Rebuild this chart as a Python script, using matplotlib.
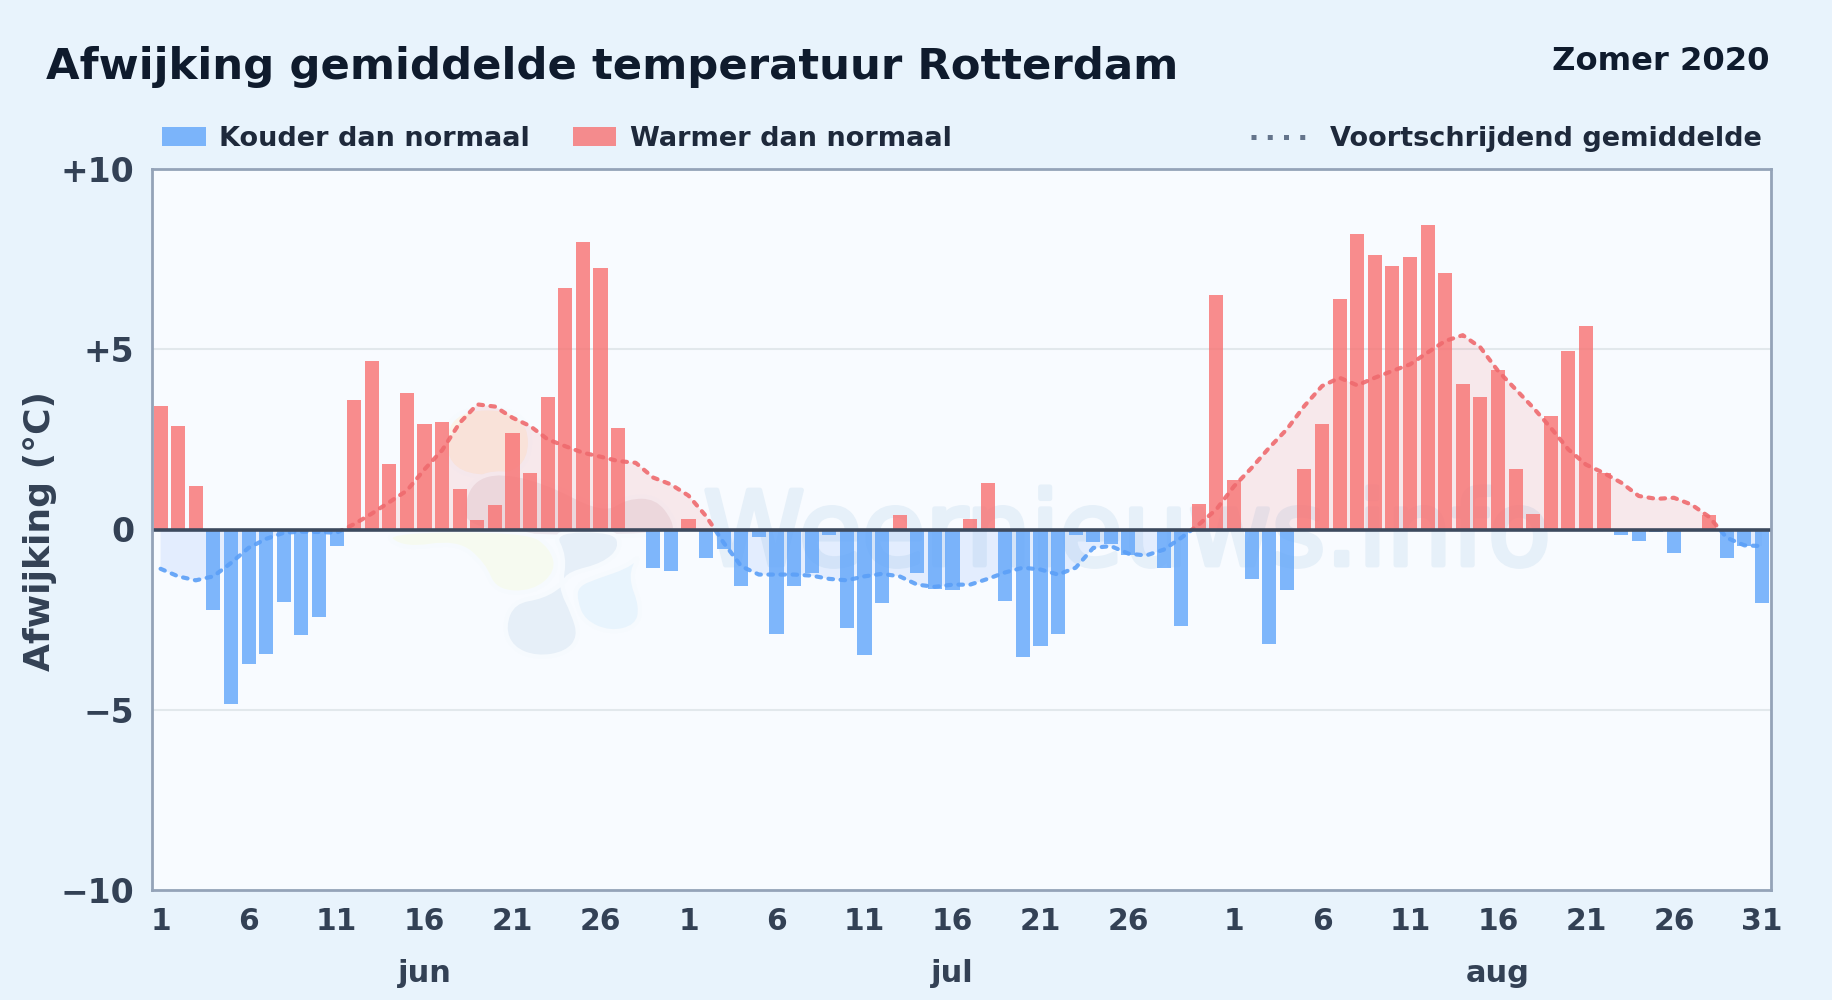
import matplotlib
matplotlib.use("Agg")
import matplotlib.pyplot as plt
import matplotlib.patheffects as pe
from matplotlib.patches import Rectangle, PathPatch
from matplotlib.path import Path
from matplotlib.lines import Line2D
from matplotlib.transforms import blended_transform_factory

# afwijking per dag, 1 jun t/m 31 aug 2020
jun_vals = [3.42, 2.86, 1.22, -2.22, -4.83, -3.74, -3.46, -2.00, -2.94, -2.44,
            -0.47, 3.58, 4.67, 1.81, 3.80, 2.94, 2.97, 1.11, 0.25, 0.69,
            2.69, 1.56, 3.67, 6.69, 7.97, 7.25, 2.81, 0.0, -1.06, -1.14]
jul_vals = [0.28, -0.78, -0.53, -1.56, -0.22, -2.89, -1.56, -1.22, -0.14, -2.72,
            -3.47, -2.03, 0.39, -1.22, -1.64, -1.69, 0.28, 1.28, -1.97, -3.53,
            -3.24, -2.89, -0.14, -0.36, -0.39, -0.72, 0.0, -1.06, -2.67, 0.72,
            6.50]
aug_vals = [1.36, -1.36, -3.17, -1.67, 1.67, 2.94, 6.39, 8.19, 7.61, 7.31,
            7.56, 8.44, 7.11, 4.03, 3.67, 4.42, 1.69, 0.42, 3.14, 4.94,
            5.64, 1.58, -0.14, -0.31, -0.07, -0.64, 0.0, 0.39, -0.78, -0.47,
            -2.03]

# voortschrijdend gemiddelde
jun_avg = [-1.09, -1.30, -1.41, -1.30, -0.93, -0.51, -0.26, -0.09, -0.06, -0.07,
           -0.09, 0.15, 0.44, 0.76, 1.08, 1.67, 2.20, 2.96, 3.47, 3.41,
           3.10, 2.87, 2.50, 2.31, 2.13, 2.02, 1.90, 1.85, 1.44, 1.25]
jul_avg = [0.94, 0.37, -0.37, -1.02, -1.25, -1.25, -1.25, -1.28, -1.37, -1.41,
           -1.30, -1.23, -1.30, -1.53, -1.59, -1.53, -1.53, -1.37, -1.19, -1.06,
           -1.11, -1.25, -1.06, -0.51, -0.46, -0.67, -0.72, -0.56, -0.23, 0.14,
           0.56]
aug_avg = [1.20, 1.71, 2.27, 2.78, 3.43, 3.98, 4.21, 4.00, 4.21, 4.40,
           4.58, 4.91, 5.23, 5.39, 5.05, 4.40, 3.89, 3.38, 2.82, 2.22,
           1.80, 1.57, 1.30, 0.93, 0.85, 0.88, 0.69, 0.35, -0.23, -0.44,
           -0.46]

tick_pos = [0, 5, 10, 15, 20, 25, 30, 35, 40, 45, 50, 55, 61, 66, 71, 76, 81, 86, 91]
tick_lab = ["1", "6", "11", "16", "21", "26", "1", "6", "11", "16", "21", "26",
            "1", "6", "11", "16", "21", "26", "31"]
month_pos = [15, 45, 76]
month_lab = ["jun", "jul", "aug"]
y_ticks = [-10, -5, 0, 5, 10]
y_lab = ["\u221210", "\u22125", "0", "+5", "+10"]

W = 1832.0
H = 1000.0
DARK = "#0f1b2d"
TXT = "#1e293b"
TICK = "#334155"
BLUE = "#60a5fa"
RED = "#f87171"

plt.rcParams["font.family"] = "DejaVu Sans"
plt.rcParams["font.weight"] = "bold"

def fx(px):
    return px / W

def fy(py):
    return 1 - py / H

def blob(points, color):
    # gesloten vorm, hoeken afgerond met kwadratische curves
    pts = [(fx(370 + a / 3.0), fy(440 + b / 3.0)) for a, b in points]
    n = len(pts)
    mid = lambda p, q: ((p[0] + q[0]) / 2, (p[1] + q[1]) / 2)
    verts = [mid(pts[-1], pts[0])]
    codes = [Path.MOVETO]
    for i in range(n):
        verts.append(pts[i])
        verts.append(mid(pts[i], pts[(i + 1) % n]))
        codes.append(Path.CURVE3)
        codes.append(Path.CURVE3)
    return PathPatch(Path(verts, codes), transform=fig.transFigure, facecolor=color,
                     edgecolor="#f6fafe", lw=3, zorder=0.6)

vals = jun_vals + jul_vals + aug_vals
avg = jun_avg + jul_avg + aug_avg
days = list(range(len(vals)))

fig = plt.figure(figsize=(W / 100, H / 100), dpi=100, facecolor="#e8f3fc")
ax = fig.add_axes([fx(152.3), fy(890), fx(1771.3 - 152.3), (890 - 169) / H])
ax.set_facecolor("#f8fbff")
ax.set_xlim(-0.47, 91.53)
ax.set_ylim(-10, 10)

# watermerk
ax.add_patch(blob([(225, -95), (480, -95), (480, 110), (225, 110)], "#fbf4ea"))
ax.add_patch(blob([(280, 150), (360, 90), (520, 120), (700, 215), (770, 170), (860, 170),
                   (915, 240), (915, 290), (280, 290)], "#ece8ee"))
ax.add_patch(blob([(30, 272), (100, 330), (260, 305), (340, 370), (375, 455), (490, 460),
                   (565, 395), (545, 320), (470, 270)], "#f6faf0"))
ax.add_patch(blob([(400, 560), (430, 485), (520, 470), (580, 430), (600, 400), (700, 375),
                   (755, 325), (735, 270), (545, 272), (585, 350), (570, 440), (610, 520),
                   (630, 590), (590, 640), (500, 655), (425, 625)], "#e6eff8"))
ax.add_patch(blob([(810, 345), (780, 410), (815, 500), (800, 560), (720, 580), (640, 545),
                   (615, 480), (620, 435), (680, 410), (770, 380)], "#e8f4fd"))
ax.text(fx(1127), fy(565), "Weernieuws.info", transform=fig.transFigure, fontsize=74,
        fontweight="normal", color="#e6f0f9", ha="center", va="baseline", zorder=0.7,
        path_effects=[pe.withStroke(linewidth=3.5, foreground="#e6f0f9")])

for v in [-5, 5]:
    ax.axhline(v, color="#e2e8ec", lw=1.5, zorder=1)

ax.fill_between(days, avg, 0, where=[a >= 0 for a in avg], interpolate=True,
                color="#ef4444", alpha=0.1, lw=0, zorder=1.5)
ax.fill_between(days, avg, 0, where=[a <= 0 for a in avg], interpolate=True,
                color="#3b82f6", alpha=0.11, lw=0, zorder=1.5)

bar_cols = [RED if v > 0 else BLUE for v in vals]
ax.bar(days, vals, width=0.8, color=bar_cols, alpha=0.8, lw=0, zorder=2)

# zelfde lijn twee keer, geknipt op de nullijn
for col, clip_y, clip_h in [("#ef6a6e", 0, 10), ("#5b9ff7", -10, 10)]:
    line, = ax.plot(days, avg, color=col, lw=3.0, ls=(0, (1.1, 1.8)),
                    dash_capstyle="round", alpha=0.9, zorder=3)
    line.set_clip_path(Rectangle((-0.47, clip_y), 92, clip_h, transform=ax.transData))

ax.axhline(0, color="#3d4a5e", lw=2.6, zorder=4)

for s in ax.spines.values():
    s.set_color("#94a3b8")
    s.set_linewidth(2.0)
    s.set_zorder(5)

ax.set_xticks(tick_pos)
ax.set_xticklabels(tick_lab)
ax.set_yticks(y_ticks)
ax.set_yticklabels(y_lab)
ax.tick_params(axis="x", length=0, labelsize=21.4, labelcolor=TICK, pad=12)
ax.tick_params(axis="y", length=0, labelsize=23.8, labelcolor=TICK, pad=13)

trans = blended_transform_factory(ax.transData, fig.transFigure)
for p, m in zip(month_pos, month_lab):
    ax.text(p, fy(974), m, transform=trans, ha="center", va="center", fontsize=22, color=TICK)

fig.text(fx(40), fy(531), "Afwijking (\u00b0C)", rotation=90, ha="center", va="center",
         fontsize=26, color=TICK)
fig.text(fx(46), fy(79), "Afwijking gemiddelde temperatuur Rotterdam", ha="left", va="baseline",
         fontsize=31.2, color=DARK)
fig.text(fx(1770), fy(61), "Zomer 2020", ha="right", va="center", fontsize=23.2, color=DARK)

# legenda
fig.patches.append(Rectangle((fx(162), fy(146)), 44 / W, 19 / H, transform=fig.transFigure,
                             facecolor=BLUE, alpha=0.8, lw=0))
fig.text(fx(219), fy(139), "Kouder dan normaal", ha="left", va="center", fontsize=19.5, color=TXT)
fig.patches.append(Rectangle((fx(573), fy(146)), 43 / W, 19 / H, transform=fig.transFigure,
                             facecolor=RED, alpha=0.8, lw=0))
fig.text(fx(630), fy(139), "Warmer dan normaal", ha="left", va="center", fontsize=19.5, color=TXT)
fig.add_artist(Line2D([fx(1251), fx(1307)], [fy(137), fy(137)], transform=fig.transFigure,
                      color="#64748b", lw=3.6, ls=(0, (1, 2.25))))
fig.text(fx(1330), fy(139), "Voortschrijdend gemiddelde", ha="left", va="center", fontsize=19.5, color=TXT)

fig.savefig("out.png", dpi=100, facecolor=fig.get_facecolor())
plt.close("all")
